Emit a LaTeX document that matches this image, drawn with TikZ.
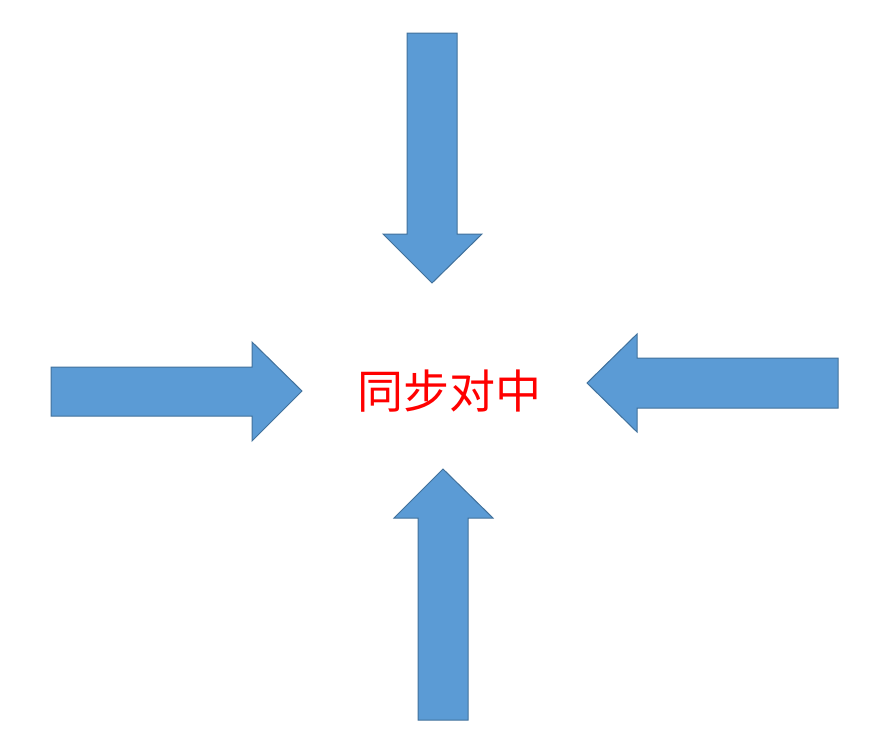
\documentclass[tikz,border=0pt]{standalone}
\usepackage{fontspec}
\newfontfamily\cjk{Noto Sans CJK SC}
\usepackage{tikz}

\definecolor{arrowfill}{HTML}{5B9BD5}
\definecolor{arrowline}{HTML}{41719C}

\tikzset{
    blockarrow/.style={fill=arrowfill, draw=arrowline, line width=1pt, line join=miter},
    centertext/.style={text=red, font=\cjk\fontsize{46}{52}\selectfont, inner sep=0pt}
}

\begin{document}
\begin{tikzpicture}[x=1pt, y=-1pt]
            \useasboundingbox (0,0) rectangle (878,732);

            % top arrow, pointing down
            \draw[blockarrow] (407,33) -- (457,33) -- (457,234) -- (482,234) -- (432,283)
                -- (383,234) -- (407,234) -- cycle;

            % left arrow, pointing right
            \draw[blockarrow] (51,367) -- (252,367) -- (252,342) -- (302,391) -- (252,441)
                -- (252,416) -- (51,416) -- cycle;

            % right arrow, pointing left
            \draw[blockarrow] (838,358) -- (637,358) -- (637,334) -- (587,383) -- (637,432)
                -- (637,408) -- (838,408) -- cycle;

            % bottom arrow, pointing up
            \draw[blockarrow] (418,720) -- (418,518) -- (394,518) -- (443,469) -- (493,518)
                -- (468,518) -- (468,720) -- cycle;

            \node[centertext] (label) at (449,391) {同步对中};
        \end{tikzpicture}
\end{document}
